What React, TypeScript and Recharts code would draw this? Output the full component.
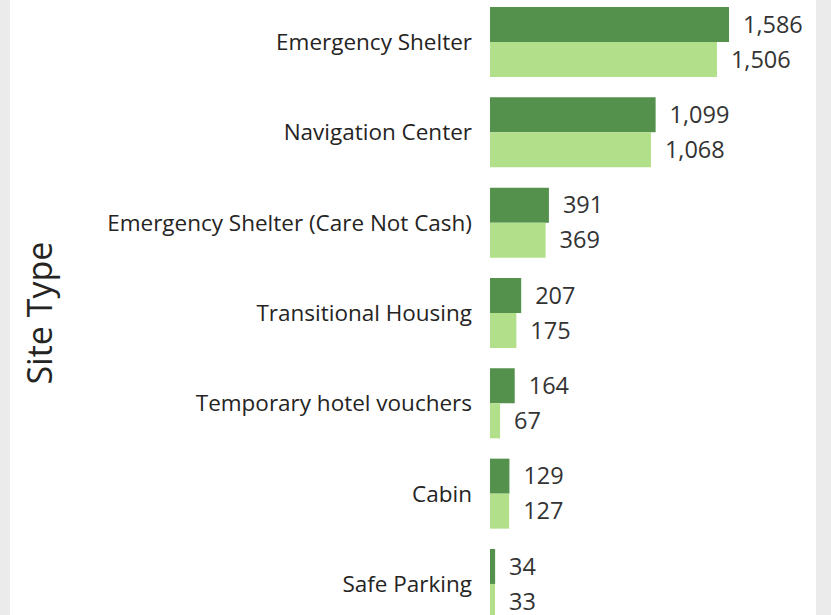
import React from "react";
import { BarChart, Bar, XAxis, YAxis, LabelList } from "recharts";

const categories = [
  "Emergency Shelter",
  "Navigation Center",
  "Emergency Shelter (Care Not Cash)",
  "Transitional Housing",
  "Temporary hotel vouchers",
  "Cabin",
  "Safe Parking",
];
const capacityValues = [1586, 1099, 391, 207, 164, 129, 34];
const occupiedValues = [1506, 1068, 369, 175, 67, 127, 33];
const axisTitle = "Site Type";

const data = categories.map((c, i) => ({
  site: c,
  capacity: capacityValues[i],
  occupied: occupiedValues[i],
}));

const FONT = "'Open Sans', 'Noto Sans', sans-serif";
const fmt = (v: any) => Number(v).toLocaleString("en-US");

const TitleLabel = (props: any) => {
  const vb = props.viewBox || {};
  const cx = 52;
  const cy = vb.y + vb.height / 2;
  return (
    <text
      x={cx}
      y={cy}
      transform={`rotate(-90, ${cx}, ${cy})`}
      textAnchor="middle"
      fontSize={34}
      fontFamily={FONT}
      fill="#252423"
    >
      {axisTitle}
    </text>
  );
};

export default function App() {
  return (
    <div
      style={{
        position: "absolute",
        left: 0,
        top: 0,
        width: 831,
        height: 615,
        overflow: "hidden",
        background: "#ffffff",
      }}
    >
      <div style={{ position: "absolute", left: 0, top: 0, width: 10, height: 615, background: "#ebebeb" }} />
      <div style={{ position: "absolute", left: 816, top: 0, width: 15, height: 615, background: "#ebebeb" }} />
      <div style={{ position: "absolute", left: 0, top: -3.17 }}>
        <BarChart
          width={831}
          height={632.3}
          data={data}
          layout="vertical"
          margin={{ top: 0, right: 39.6, bottom: 0, left: 0 }}
          barSize={35}
          barGap={0}
        >
          <XAxis type="number" domain={[0, 2000]} hide />
          <YAxis
            type="category"
            dataKey="site"
            width={490}
            axisLine={false}
            tickLine={false}
            tickMargin={12}
            tick={{ fontSize: 22.5, fontFamily: FONT, fill: "#252423" }}
            label={<TitleLabel />}
          />
          <Bar dataKey="capacity" fill="#53914c" isAnimationActive={false}>
            <LabelList
              dataKey="capacity"
              position="right"
              offset={14}
              formatter={fmt}
              style={{ fontSize: 23.5, fontFamily: FONT, fill: "#333333" }}
            />
          </Bar>
          <Bar dataKey="occupied" fill="#b2df8a" isAnimationActive={false}>
            <LabelList
              dataKey="occupied"
              position="right"
              offset={14}
              formatter={fmt}
              style={{ fontSize: 23.5, fontFamily: FONT, fill: "#333333" }}
            />
          </Bar>
        </BarChart>
      </div>
    </div>
  );
}
